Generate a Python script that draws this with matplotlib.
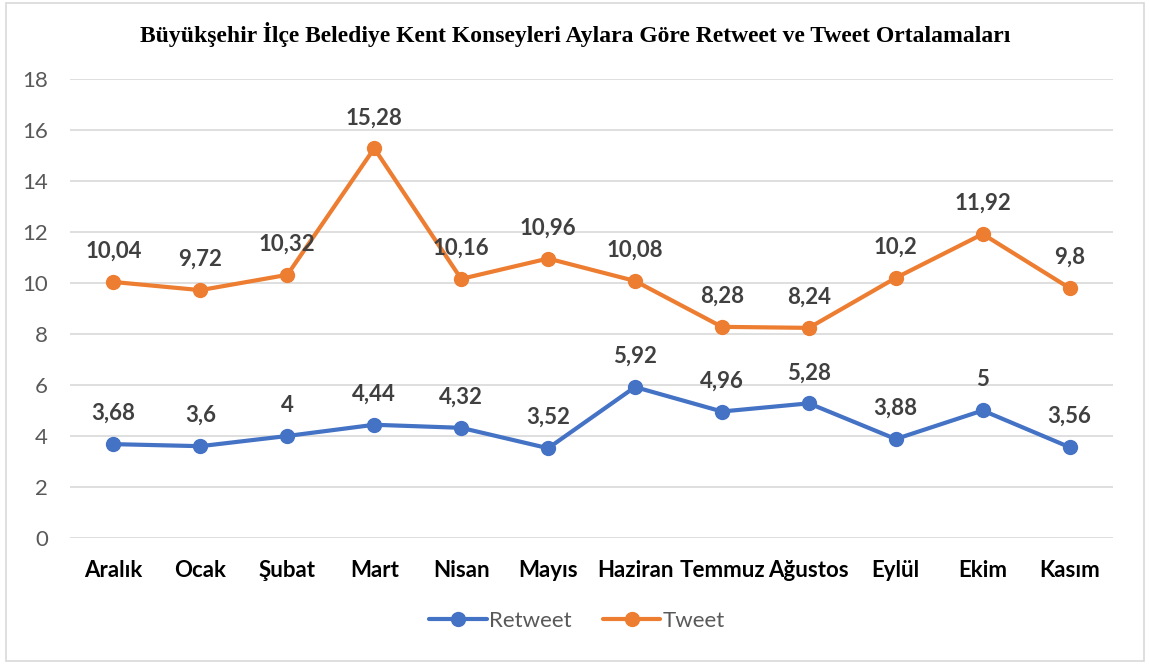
import matplotlib
matplotlib.use("Agg")
import matplotlib.pyplot as plt
from matplotlib.patches import Rectangle

months = ["Aralık", "Ocak", "Şubat", "Mart", "Nisan", "Mayıs", "Haziran",
          "Temmuz", "Ağustos", "Eylül", "Ekim", "Kasım"]
retweet = [3.68, 3.6, 4, 4.44, 4.32, 3.52, 5.92, 4.96, 5.28, 3.88, 5, 3.56]
tweet = [10.04, 9.72, 10.32, 15.28, 10.16, 10.96, 10.08, 8.28, 8.24, 10.2, 11.92, 9.8]
yticks = [0, 2, 4, 6, 8, 10, 12, 14, 16, 18]
title = "Büyükşehir İlçe Belediye Kent Konseyleri Aylara Göre Retweet ve Tweet Ortalamaları"

BLUE = "#4472C4"
ORANGE = "#ED7D31"
FONT = "Lato"

fig = plt.figure(figsize=(11.5, 6.64), dpi=100)
ax = fig.add_axes([0.0609, 0.1898, 0.907, 0.6912])

x = list(range(len(months)))
ax.plot(x, retweet, color=BLUE, lw=3, marker="o", ms=10, label="Retweet",
        solid_capstyle="round", zorder=3)
ax.plot(x, tweet, color=ORANGE, lw=3, marker="o", ms=10, label="Tweet",
        solid_capstyle="round", zorder=3)

def fmt(v):
    return ("%g" % v).replace(".", ",")

for series in (retweet, tweet):
    for xi, v in zip(x, series):
        ax.annotate(fmt(v), (xi, v), xytext=(0, 22), textcoords="offset points",
                    ha="center", va="center", fontsize=16, fontweight="bold",
                    color="#404040", family=FONT)

ax.set_xlim(-0.5, len(months) - 0.5)
ax.set_ylim(0, 18)
ax.set_yticks(yticks)
ax.set_yticklabels([str(t) for t in yticks], fontsize=16, color="#595959", family=FONT)
ax.set_xticks(x)
ax.set_xticklabels(months, fontsize=16, fontweight="bold", color="black", family=FONT)
ax.tick_params(axis="both", length=0)
ax.tick_params(axis="y", pad=16)
ax.tick_params(axis="x", pad=16)
ax.grid(axis="y", color="#D9D9D9", lw=1.2)
ax.set_axisbelow(True)
for s in ax.spines.values():
    s.set_visible(False)

fig.text(0.5, 0.948, title, ha="center", va="center", fontsize=17,
         fontweight="bold", family="Liberation Serif", color="black")

leg = ax.legend(loc="center", ncol=2, frameon=False, prop={"family": FONT, "size": 16},
                handlelength=2.6, columnspacing=1.4, handletextpad=0.1)
for t in leg.get_texts():
    t.set_color("#595959")
leg.set_bbox_to_anchor((0.5017, 0.065), transform=fig.transFigure)

fig.patches.append(Rectangle((0.005, 0.005), 0.99, 0.99, transform=fig.transFigure,
                             fill=False, edgecolor="#D9D9D9", lw=1.2))

fig.savefig("out.png", dpi=100, facecolor="white")
